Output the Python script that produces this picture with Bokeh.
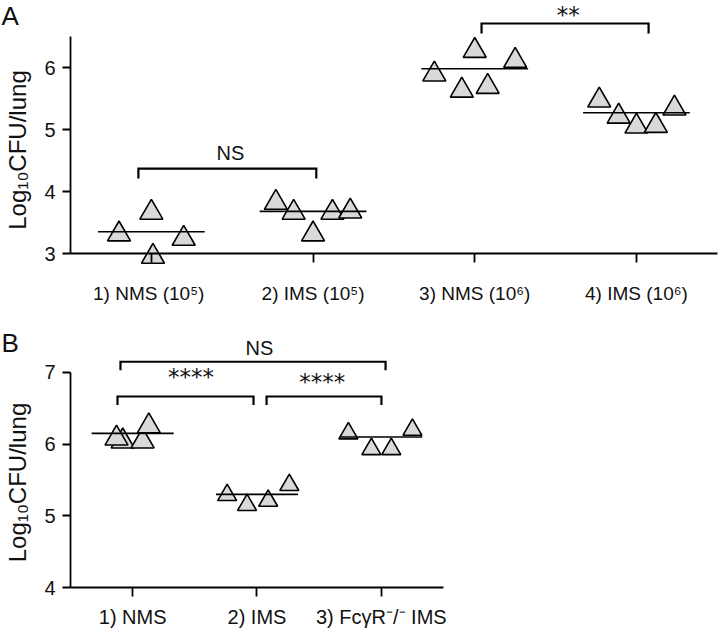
import numpy as np
from bokeh.plotting import figure
from bokeh.layouts import column
from bokeh.models import ColumnDataSource, FixedTicker, Label, Range1d
from bokeh.core.properties import value
from bokeh.embed import file_html
from bokeh.resources import INLINE

# ---------------- data: panel A ----------------
a_positions = [1, 2, 3, 4]
a_tick_labels = ["1)  NMS (10\u2075)", "2) IMS (10\u2075)", "3) NMS (10\u2076)", "4) IMS (10\u2076)"]
a_nms_1e5 = [3.31, 3.66, 2.95, 3.24]
a_ims_1e5 = [3.82, 3.66, 3.31, 3.66, 3.68]
a_nms_1e6 = [5.89, 5.63, 6.27, 5.69, 6.11]
a_ims_1e6 = [5.47, 5.21, 5.05, 5.06, 5.34]
a_centre_lines = [3.35, 3.68, 5.98, 5.27]
a_y_ticks = [3, 4, 5, 6]
a_sig_pairs = [(1, 2), (3, 4)]
a_sig_labels = ["NS", "**"]
a_sig_heights = [4.37, 6.71]

# ---------------- data: panel B ----------------
b_positions = [1, 2, 3]
b_tick_labels = ["1) NMS", "2) IMS", "3) Fc\u03b3R\u207b/\u207b IMS"]
b_nms = [6.04, 6.08, 6.04, 6.25]
b_ims = [5.29, 5.15, 5.21, 5.43]
b_fcgr_ims = [6.15, 5.93, 5.93, 6.20]
b_centre_lines = [6.15, 5.30, 6.10]
b_y_ticks = [4, 5, 6, 7]
b_sig_pairs = [(1, 3), (1, 2), (2, 3)]
b_sig_labels = ["NS", "****", "****"]
b_sig_heights = [7.15, 6.665, 6.665]

# ---------------- layout / style (not data) ----------------
a_jitter = [[-0.20, 0.00, 0.01, 0.20],
            [-0.23, -0.12, 0.00, 0.12, 0.23],
            [-0.25, -0.08, 0.00, 0.08, 0.25],
            [-0.23, -0.11, 0.00, 0.12, 0.235]]
b_jitter = [[-0.08, -0.13, 0.08, 0.13],
            [-0.24, -0.08, 0.09, 0.26],
            [-0.265, -0.08, 0.08, 0.25]]
a_marker_sizes = [23, 23, 23, 23]
b_marker_sizes = [23, 19, 19]
a_bracket_ends = [(-0.08, 0.02), (0.042, 0.075)]
b_bracket_ends = [(-0.098, 0.034), (-0.122, -0.028), (0.077, 0.001)]
a_label_lift = [0.258, 0.209]
b_label_lift = [0.196, 0.321, 0.265]
a_label_shift = [0.019, 0.019]
b_label_shift = [0.051, 0.045, -0.015]

FONT = "Liberation Sans"
FILL = "#d9d9d9"
INK = "#111111"


class Mapper:
    """pixel <-> data helper for one figure whose frame fills the canvas"""
    def __init__(self, x0_val, x0_px, xppu, y0_val, y0_px, yppu, width, height):
        self.x0_val, self.x0_px, self.xppu = x0_val, x0_px, xppu
        self.y0_val, self.y0_px, self.yppu = y0_val, y0_px, yppu
        self.width, self.height = width, height

    def x(self, px):
        return self.x0_val + (px - self.x0_px) / self.xppu

    def y(self, py):
        return self.y0_val + (self.y0_px - py) / self.yppu

    def ranges(self):
        return (Range1d(self.x(0), self.x(self.width)),
                Range1d(self.y(self.height), self.y(0)))


def make_fig(m):
    xr, yr = m.ranges()
    p = figure(width=m.width, height=m.height, x_range=xr, y_range=yr,
               output_backend="svg", toolbar_location=None,
               min_border_left=0, min_border_right=0, min_border_top=0, min_border_bottom=0)
    p.grid.grid_line_color = None
    p.outline_line_color = None
    p.background_fill_color = "white"
    p.border_fill_color = "white"
    return p


def style_axes(p, xticks, xlabels, yticks, ybounds, xbounds, xfont, xstandoff):
    xa = p.xaxis[0]
    ya = p.yaxis[0]
    for ax in (xa, ya):
        ax.axis_line_color = "black"
        ax.axis_line_width = 1.8
        ax.major_tick_line_color = "black"
        ax.major_tick_line_width = 1.8
        ax.major_tick_in = 0
        ax.minor_tick_line_color = None
        ax.major_label_text_font = FONT
        ax.major_label_text_color = INK
    xa.ticker = FixedTicker(ticks=xticks)
    xa.major_label_overrides = {t: l for t, l in zip(xticks, xlabels)}
    xa.major_label_text_font_size = xfont
    xa.major_label_standoff = xstandoff
    xa.major_tick_out = 9
    xa.bounds = xbounds
    xa.fixed_location = ybounds[0]
    ya.ticker = FixedTicker(ticks=yticks)
    ya.major_label_text_font_size = "20px"
    ya.major_label_standoff = 7
    ya.major_tick_out = 8
    ya.bounds = ybounds
    ya.fixed_location = xbounds[0]


def draw_groups(p, positions, groups, jitter, sizes, lines):
    xs, ys, ss = [], [], []
    for pos, vals, jit, s in zip(positions, groups, jitter, sizes):
        for v, j in zip(vals, jit):
            xs.append(pos + j)
            ys.append(v)
            ss.append(s)
    src = ColumnDataSource(dict(x=xs, y=ys, s=ss))
    p.scatter("x", "y", source=src, marker="triangle", size="s",
              fill_color=FILL, line_color="black", line_width=1.6)
    lsrc = ColumnDataSource(dict(x0=[g - 0.33 for g in positions],
                                 x1=[g + 0.33 for g in positions],
                                 y=lines))
    p.segment(x0="x0", x1="x1", y0="y", y1="y", source=lsrc,
              line_color="black", line_width=1.6)


def draw_brackets(p, pairs, labels, heights, ends, lifts, shifts, leg):
    bxs, bys, tx, ty, tt, sx, sy, st = [], [], [], [], [], [], [], []
    for (g0, g1), lab, h, (e0, e1), lift, sh in zip(pairs, labels, heights, ends, lifts, shifts):
        x0, x1 = g0 + e0, g1 + e1
        bxs.append([x0, x0, x1, x1])
        bys.append([h - leg, h, h, h - leg])
        if "*" in lab:
            sx.append((x0 + x1) / 2 + sh); sy.append(h + lift); st.append(lab)
        else:
            tx.append((x0 + x1) / 2 + sh); ty.append(h + lift); tt.append(lab)
    p.multi_line(xs=bxs, ys=bys, line_color="black", line_width=2.2,
                 line_join="miter", line_cap="butt")
    if tt:
        p.text(x=tx, y=ty, text=tt, text_font=value(FONT),
               text_font_size=value("20px"), text_align="center",
               text_baseline="middle", text_color=INK)
    if st:
        p.text(x=sx, y=sy, text=st, text_font=value("DejaVu Sans"),
               text_font_size=value("23px"), text_align="center",
               text_baseline="middle", text_color=INK, y_offset=4)


def panel_letter(p, m, letter, px, py):
    p.add_layout(Label(x=m.x(px), y=m.y(py), text=letter, text_font=FONT,
                       text_font_size="26px", text_align="left", text_baseline="top",
                       text_color=INK))


def y_title(p, m, px, py):
    p.add_layout(Label(x=m.x(px), y=m.y(py), text="Log\u2081\u2080CFU/lung", text_font=FONT,
                       text_font_size="24px", angle=np.pi / 2, text_align="center",
                       text_baseline="middle", text_color=INK))


# ---------------- panel A (page rows 0..312) ----------------
mA = Mapper(0.5, 70, 161.7, 3.0, 253, 62.0, 720, 312)
pA = make_fig(mA)
style_axes(pA, a_positions, a_tick_labels, a_y_ticks, (3, 6.5), (0.5, 4.5), "19px", 20)
draw_groups(pA, a_positions, [a_nms_1e5, a_ims_1e5, a_nms_1e6, a_ims_1e6],
            a_jitter, a_marker_sizes, a_centre_lines)
draw_brackets(pA, a_sig_pairs, a_sig_labels, a_sig_heights, a_bracket_ends,
              a_label_lift, a_label_shift, 0.16)
panel_letter(pA, mA, "A", 1, 0)
y_title(pA, mA, 17, 149.5)

# ---------------- panel B (page rows 312..631) ----------------
mB = Mapper(0.5, 70, 124.33, 4.0, 275, 71.67, 720, 319)
pB = make_fig(mB)
style_axes(pB, b_positions, b_tick_labels, b_y_ticks, (4, 7), (0.5, 3.5), "20px", 9)
draw_groups(pB, b_positions, [b_nms, b_ims, b_fcgr_ims], b_jitter, b_marker_sizes, b_centre_lines)
draw_brackets(pB, b_sig_pairs, b_sig_labels, b_sig_heights, b_bracket_ends,
              b_label_lift, b_label_shift, 0.12)
panel_letter(pB, mB, "B", 1, 15)
y_title(pB, mB, 17, 170)

layout = column(pA, pB, spacing=0)
open("out.html", "w").write(file_html(layout, INLINE))
